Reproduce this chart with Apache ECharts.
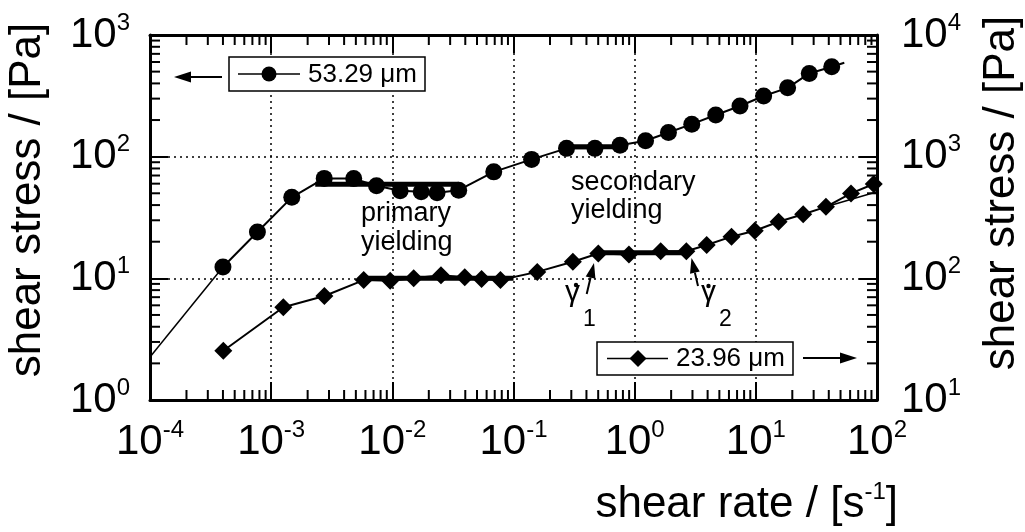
<!DOCTYPE html>
<html><head><meta charset="utf-8">
<script src="https://cdn.jsdelivr.net/npm/echarts@6/dist/echarts.min.js"></script>
<style>html,body{margin:0;padding:0;background:#fff}#c{width:1025px;height:532px}</style>
</head><body><div id="c"></div>
<script>
// ---- data ----
const circleRate   = [4.0e-4, 7.7e-4, 1.48e-3, 2.74e-3, 4.8e-3, 7.4e-3, 0.0116, 0.0173, 0.0234, 0.0353, 0.0687, 0.141, 0.274, 0.47, 0.757, 1.23, 1.9, 2.96, 4.67, 7.4, 11.6, 18.3, 27.6, 42.3];
const circleStress = [12.4, 24, 46.3, 66.3, 66, 57.7, 52.5, 51.5, 50.5, 53, 75, 95, 117, 117, 124, 135, 158, 185, 220, 261, 315, 368, 483, 548];
const diamondRate   = [4.03e-4, 1.26e-3, 2.75e-3, 5.8e-3, 9.6e-3, 0.015, 0.0252, 0.0396, 0.0545, 0.078, 0.157, 0.309, 0.501, 0.897, 1.64, 2.67, 3.93, 6.3, 9.8, 15.4, 24.6, 37.9, 61, 94];
const diamondStress = [25.4, 57.8, 71.6, 96.8, 95.6, 100, 106, 102, 98.6, 97, 113, 137, 160, 157, 167, 167, 188, 220, 246, 292, 336, 387, 499, 596];
// fitted / guide lines
const circFitLow   = [[1e-4, 2.26], [4.0e-4, 12.4]];
const circFitHigh  = [[42.3, 548], [53.7, 591]];
const circPlateau1 = [[2.31e-3, 59.2], [0.0353, 59.2]];
const circPlateau2 = [[0.244, 120.6], [0.87, 120.6]];
const diaPlateau1  = [[5.8e-3, 100], [0.1, 100]];
const diaPlateau2  = [[0.507, 162], [2.73, 162]];
const diaFitHigh   = [[37.9, 387], [100, 515]];
// axis ranges & labels
const xRange = [1e-4, 1e2];
const yLeftRange = [1, 1e3];
const yRightRange = [10, 1e4];
const xTitle = 'shear rate / [s';
const yTitle = 'shear stress / [Pa]';
const legend1 = '53.29 \u03bcm';
const legend2 = '23.96 \u03bcm';

const FONT = '"Liberation Sans", Arial, Helvetica, sans-serif';
const zip = (a, b) => a.map((v, i) => [v, b[i]]);

// minor tick positions (2..9 x 10^k)
const minorX = [], minorY = [];
for (let e = -4; e < 2; e++) for (let m = 2; m < 10; m++) minorX.push([m * Math.pow(10, e), 10, 0]);
for (let e = 0; e < 3; e++) for (let m = 2; m < 10; m++) minorY.push([1e-2, m * Math.pow(10, e), 1]);

const tickFmt = v => '{b|10}{s|' + Math.round(Math.log10(v)) + '}';
const richTick = {
  b: {fontSize: 42, fontFamily: FONT, color: '#000', lineHeight: 48},
  s: {fontSize: 24, fontFamily: FONT, color: '#000', verticalAlign: 'top', lineHeight: 24}
};
const axisLine = {show: true, onZero: false, lineStyle: {color: '#000', width: 3}};
const majorTick = {show: true, inside: true, length: 18, lineStyle: {color: '#000', width: 2}};
const gridDots = {show: true, lineStyle: {color: '#000', width: 1.5, type: [2, 4]}};

const chart = echarts.init(document.getElementById('c'), null, {renderer: 'canvas'});

function arrow(tail, tip, headLen, headHalf) {
  const dx = tip[0] - tail[0], dy = tip[1] - tail[1];
  const L = Math.hypot(dx, dy), ux = dx / L, uy = dy / L;
  const bx = tip[0] - ux * headLen, by = tip[1] - uy * headLen;
  const px = -uy, py = ux;
  return [
    {type: 'line', z: 100, shape: {x1: tail[0], y1: tail[1], x2: bx, y2: by}, style: {stroke: '#000', lineWidth: 2}},
    {type: 'polygon', z: 100, shape: {points: [tip, [bx + px * headHalf, by + py * headHalf], [bx - px * headHalf, by - py * headHalf]]}, style: {fill: '#000'}}
  ];
}

const minorRender = (params, api) => {
  const cs = params.coordSys;
  const p = api.coord([api.value(0), api.value(1)]);
  const st = {stroke: '#000', lineWidth: 2};
  if (api.value(2) === 0) {
    return {type: 'group', children: [
      {type: 'line', shape: {x1: p[0], y1: cs.y + cs.height, x2: p[0], y2: cs.y + cs.height - 10}, style: st},
      {type: 'line', shape: {x1: p[0], y1: cs.y, x2: p[0], y2: cs.y + 10}, style: st}
    ]};
  }
  return {type: 'group', children: [
    {type: 'line', shape: {x1: cs.x, y1: p[1], x2: cs.x + 10, y2: p[1]}, style: st},
    {type: 'line', shape: {x1: cs.x + cs.width, y1: p[1], x2: cs.x + cs.width - 10, y2: p[1]}, style: st}
  ]};
};

const lineSeries = (data, yIdx, width, extra) => Object.assign({
  type: 'line', data: data, yAxisIndex: yIdx, showSymbol: false, symbol: 'none',
  lineStyle: {color: '#000', width: width}, silent: true, animation: false, z: 3
}, extra || {});

const option = {
  animation: false,
  backgroundColor: '#fff',
  grid: {left: 150, right: 148, top: 35, bottom: 132, outerBoundsMode: 'none', containLabel: false},
  xAxis: [
    {type: 'log', logBase: 10, min: xRange[0], max: xRange[1], splitNumber: 6, position: 'bottom',
     axisLine: axisLine, axisTick: majorTick, splitLine: gridDots, minorTick: {show: false},
     axisLabel: {formatter: tickFmt, rich: richTick, margin: 18, showMinLabel: true, showMaxLabel: true}},
    {type: 'log', logBase: 10, min: xRange[0], max: xRange[1], splitNumber: 6, position: 'top',
     axisLine: axisLine, axisTick: majorTick, splitLine: {show: false}, axisLabel: {show: false}}
  ],
  yAxis: [
    {type: 'log', logBase: 10, min: yLeftRange[0], max: yLeftRange[1], splitNumber: 3, position: 'left',
     axisLine: axisLine, axisTick: majorTick, splitLine: gridDots,
     axisLabel: {formatter: tickFmt, rich: richTick, margin: 20, showMinLabel: true, showMaxLabel: true}},
    {type: 'log', logBase: 10, min: yRightRange[0], max: yRightRange[1], splitNumber: 3, position: 'right',
     axisLine: axisLine, axisTick: majorTick, splitLine: {show: false},
     axisLabel: {formatter: tickFmt, rich: richTick, margin: 24, showMinLabel: true, showMaxLabel: true}}
  ],
  series: [
    {type: 'custom', data: minorX, renderItem: minorRender, clip: false, silent: true, z: 5, encode: {x: 0, y: 1}},
    {type: 'custom', data: minorY, renderItem: minorRender, clip: false, silent: true, z: 5, encode: {x: 0, y: 1}},
    lineSeries(circFitLow, 0, 1.5),
    lineSeries(circFitHigh, 0, 2),
    lineSeries(circPlateau1, 0, 5),
    lineSeries(circPlateau2, 0, 5),
    lineSeries(diaPlateau1, 1, 5),
    lineSeries(diaPlateau2, 1, 5),
    lineSeries(diaFitHigh, 1, 1.5),
    {name: legend1, type: 'line', yAxisIndex: 0, data: zip(circleRate, circleStress),
     symbol: 'circle', symbolSize: 17, showSymbol: true,
     itemStyle: {color: '#000'}, lineStyle: {color: '#000', width: 2}, z: 4, silent: true},
    {name: legend2, type: 'line', yAxisIndex: 1, data: zip(diamondRate, diamondStress),
     symbol: 'diamond', symbolSize: 18, showSymbol: true,
     itemStyle: {color: '#000'}, lineStyle: {color: '#000', width: 2}, z: 4, silent: true}
  ],
  graphic: [
    // axis titles
    {type: 'text', x: 28, y: 200, rotation: Math.PI / 2, z: 100,
     style: {text: yTitle, font: '44px ' + FONT, fill: '#000', align: 'center', verticalAlign: 'middle'}},
    {type: 'text', x: 1002, y: 193, rotation: Math.PI / 2, z: 100,
     style: {text: yTitle, font: '44px ' + FONT, fill: '#000', align: 'center', verticalAlign: 'middle'}},
    {type: 'text', x: 898, y: 505, z: 100,
     style: {text: '{t|' + xTitle + '}{s|-1}{t|]}', align: 'right', verticalAlign: 'middle',
       rich: {t: {fontSize: 44, fontFamily: FONT, fill: '#000', lineHeight: 50},
              s: {fontSize: 24, fontFamily: FONT, fill: '#000', verticalAlign: 'top', lineHeight: 24}}}},
    // legend box 1
    {type: 'rect', z: 90, shape: {x: 229, y: 57, width: 196, height: 34}, style: {fill: '#fff', stroke: '#000', lineWidth: 1.5}},
    {type: 'line', z: 100, shape: {x1: 238, y1: 74, x2: 300, y2: 74}, style: {stroke: '#000', lineWidth: 1.5}},
    {type: 'circle', z: 100, shape: {cx: 269, cy: 74, r: 7.5}, style: {fill: '#000'}},
    {type: 'text', z: 100, x: 308, y: 75, style: {text: legend1, font: '26px ' + FONT, fill: '#000', verticalAlign: 'middle'}},
    ...arrow([222, 77], [174, 77], 17, 5.5),
    // legend box 2
    {type: 'rect', z: 90, shape: {x: 597, y: 342, width: 196, height: 33}, style: {fill: '#fff', stroke: '#000', lineWidth: 1.5}},
    {type: 'line', z: 100, shape: {x1: 607, y1: 358.5, x2: 668, y2: 358.5}, style: {stroke: '#000', lineWidth: 1.5}},
    {type: 'polygon', z: 100, shape: {points: [[638, 350], [646.5, 358.5], [638, 367], [629.5, 358.5]]}, style: {fill: '#000'}},
    {type: 'text', z: 100, x: 676, y: 359, style: {text: legend2, font: '26px ' + FONT, fill: '#000', verticalAlign: 'middle'}},
    ...arrow([803, 358], [857, 358], 17, 5.5),
    // region labels
    {type: 'text', z: 100, x: 361, y: 214, style: {text: 'primary', font: '27px ' + FONT, fill: '#000', verticalAlign: 'middle'}},
    {type: 'text', z: 100, x: 361, y: 243, style: {text: 'yielding', font: '27px ' + FONT, fill: '#000', verticalAlign: 'middle'}},
    {type: 'text', z: 100, x: 571, y: 183, style: {text: 'secondary', font: '27px ' + FONT, fill: '#000', verticalAlign: 'middle'}},
    {type: 'text', z: 100, x: 571, y: 211, style: {text: 'yielding', font: '27px ' + FONT, fill: '#000', verticalAlign: 'middle'}},
    // gamma dot 1
    {type: 'text', z: 100, x: 565, y: 293, style: {text: '\u03b3', font: '30px ' + FONT, fill: '#000', verticalAlign: 'middle'}},
    {type: 'circle', z: 100, shape: {cx: 576, cy: 285, r: 2.2}, style: {fill: '#000'}},
    {type: 'text', z: 100, x: 583, y: 320, style: {text: '1', font: '23px ' + FONT, fill: '#000', verticalAlign: 'middle'}},
    ...arrow([586.7, 294], [594, 263], 15, 5),
    // gamma dot 2
    {type: 'text', z: 100, x: 701, y: 293, style: {text: '\u03b3', font: '30px ' + FONT, fill: '#000', verticalAlign: 'middle'}},
    {type: 'circle', z: 100, shape: {cx: 708.5, cy: 286, r: 2.2}, style: {fill: '#000'}},
    {type: 'text', z: 100, x: 719, y: 320, style: {text: '2', font: '23px ' + FONT, fill: '#000', verticalAlign: 'middle'}},
    ...arrow([698, 286], [691.5, 258], 15, 5)
  ]
};
chart.setOption(option);
</script>
</body></html>
